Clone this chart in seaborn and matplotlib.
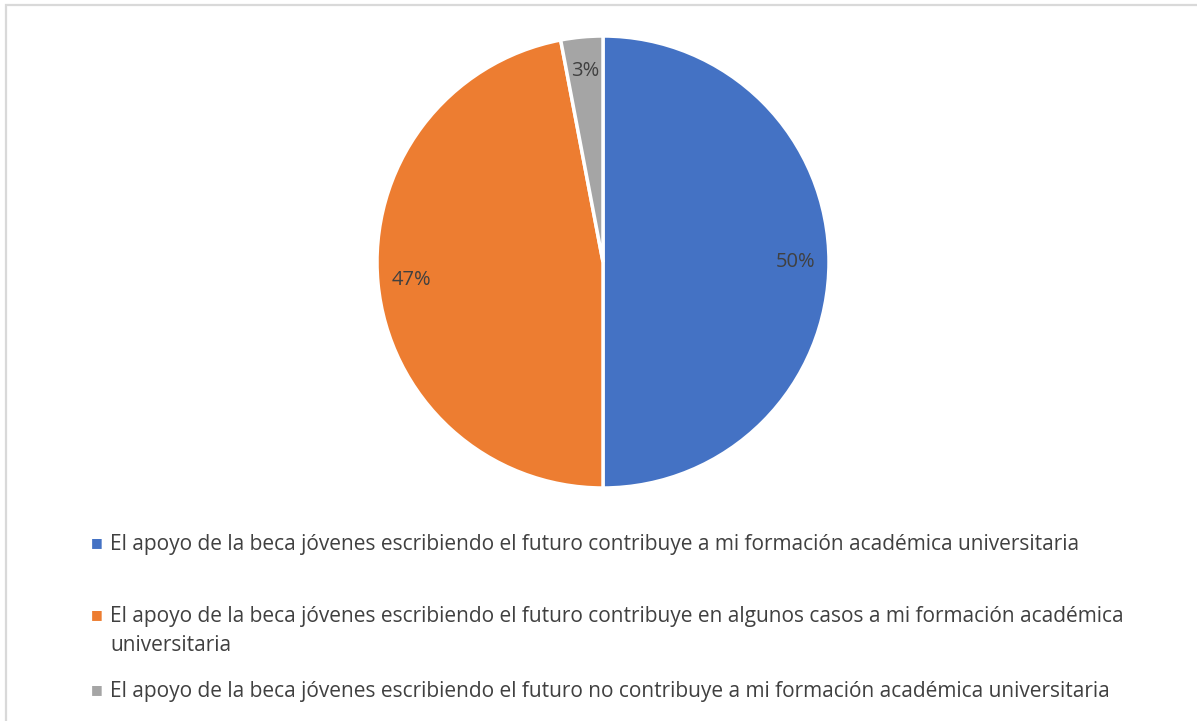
import matplotlib
matplotlib.use("Agg")
import matplotlib.pyplot as plt
import seaborn as sns
from matplotlib.patches import Rectangle

# ==========================================
# DATA
# ==========================================

labels = [
    "El apoyo de la beca jóvenes escribiendo el futuro contribuye a mi formación académica universitaria",
    "El apoyo de la beca jóvenes escribiendo el futuro contribuye en algunos casos a mi formación académica\nuniversitaria",
    "El apoyo de la beca jóvenes escribiendo el futuro no contribuye a mi formación académica universitaria",
]
values = [50, 47, 3]
colors = ["#4472C4", "#ED7D31", "#A5A5A5"]

# ==========================================
# FIGURE
# ==========================================

sns.set_style("white")
plt.rcParams["font.family"] = ["Open Sans", "DejaVu Sans"]

W, H = 1197, 721
fig = plt.figure(figsize=(W / 100, H / 100), dpi=100)

# outer chart border (only top/left visible in the crop)
fig.patches.append(Rectangle((5.5 / W, -0.05), 1.2, 1.05 - 5.5 / H,
                             transform=fig.transFigure, fill=False,
                             edgecolor="#D9D9D9", linewidth=1.6))

# pie axes
cx, cy, r = 603, 262, 226
ax = fig.add_axes([(cx - r) / W, (H - cy - r) / H, 2 * r / W, 2 * r / H])

wedges, texts, autotexts = ax.pie(
    values,
    colors=colors,
    startangle=90,
    counterclock=False,
    autopct="%1.0f%%",
    pctdistance=0.85,
    wedgeprops={"edgecolor": "white", "linewidth": 2.5},
    textprops={"fontsize": 14.5, "color": "#404040"},
)
ax.set_xlim(-1, 1)
ax.set_ylim(-1, 1)
ax.set_aspect("equal")

# ==========================================
# LEGEND
# ==========================================

legend_y = [543, 615, 690]
for lab, col, y in zip(labels, colors, legend_y):
    fig.text(97 / W, 1 - y / H, "■", color=col, fontsize=9,
             va="center", ha="center", family="DejaVu Sans")
    fig.text(110 / W, 1 - (y - 9) / H, lab, color="#404040", fontsize=15,
             va="top", ha="left", linespacing=1.5)

plt.savefig("out.png", dpi=100)
